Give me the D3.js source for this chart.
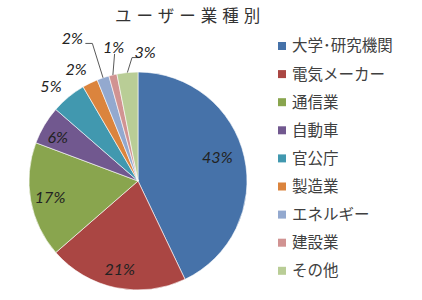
<!DOCTYPE html>
<html>
<head>
<meta charset="utf-8">
<script src="https://cdn.jsdelivr.net/npm/d3@7"></script>
<style>
  body { margin: 0; background: #ffffff; }
  svg { display: block; }
</style>
</head>
<body>
<div id="chart"></div>
<script>
// 業種別ユーザー比率
var categories = ["大学･研究機関", "電気メーカー", "通信業", "自動車", "官公庁", "製造業", "エネルギー", "建設業", "その他"];
var values = [42.9, 20.7, 17.1, 5.7, 5.2, 2.3, 1.8, 1.2, 3.1];
var labels = ["43%", "21%", "17%", "6%", "5%", "2%", "2%", "1%", "3%"];
var colors = ["#4672A9", "#AA4643", "#89A54E", "#71588F", "#4198AF", "#DB843D", "#93A9CF", "#D19392", "#B9CD96"];

var w = 422, h = 300;
var cx = 138, cy = 181, r = 109;

var svg = d3.select("#chart").append("svg").attr("width", w).attr("height", h);

svg.append("text").attr("x", 115).attr("y", 22)
    .attr("font-family", "'Noto Sans CJK JP', sans-serif").attr("font-size", 16.5)
    .attr("letter-spacing", 5).attr("fill", "#333").text("ユーザー業種別");

var pie = d3.pie().sort(null).value(function (d) { return d; });
var arcs = pie(values);
var arc = d3.arc().innerRadius(0).outerRadius(r);

var g = svg.append("g").attr("transform", "translate(" + cx + "," + cy + ")");
g.selectAll("path").data(arcs).enter().append("path")
    .attr("d", arc)
    .attr("fill", function (d, i) { return colors[i]; })
    .attr("stroke", "#fff").attr("stroke-width", 0.6);

// ラベル位置（半径の倍率・角度のずらし）
var labelRadius = [0.76, 0.83, 0.82, 0.84, 1.18, 1.17, 1.44, 1.25, 1.18];
var labelShift = [-4, 0, 0, -2, -3, -3, -6, 3, 8.7];
var lblPos = function (d, i) {
    var a = (d.startAngle + d.endAngle) / 2 + labelShift[i] * Math.PI / 180;
    var rr = r * labelRadius[i];
    return [Math.sin(a) * rr, -Math.cos(a) * rr];
};
var edgePos = function (d) {
    var a = (d.startAngle + d.endAngle) / 2;
    return [Math.sin(a) * r, -Math.cos(a) * r];
};

// 引き出し線
var line = d3.line();
var p;
p = lblPos(arcs[6], 6);
g.append("path").attr("d", line([[p[0] + 13, p[1] + 5], [p[0] + 20, p[1] + 5], edgePos(arcs[6])]));
p = lblPos(arcs[7], 7);
g.append("path").attr("d", line([[p[0] + 1, p[1] + 7], edgePos(arcs[7])]));
p = lblPos(arcs[8], 8);
g.append("path").attr("d", line([[p[0] - 6, p[1] + 5], [p[0] - 13, p[1] + 5], edgePos(arcs[8])]));
g.selectAll("path:not([fill])").attr("fill", "none").attr("stroke", "#595959").attr("stroke-width", 1);

g.selectAll("text.pct").data(arcs).enter().append("text").attr("class", "pct")
    .attr("x", function (d, i) { return lblPos(d, i)[0]; })
    .attr("y", function (d, i) { return lblPos(d, i)[1]; })
    .attr("dy", "0.35em").attr("text-anchor", "middle")
    .attr("font-family", "Lato, 'Liberation Sans', sans-serif")
    .attr("font-style", "italic").attr("font-size", 16).attr("fill", "#222")
    .text(function (d, i) { return labels[i]; });

// 凡例
var legend = svg.append("g").attr("transform", "translate(278,46)");
var row = legend.selectAll("g").data(categories).enter().append("g")
    .attr("transform", function (d, i) { return "translate(0," + (i * 28.1) + ")"; });
row.append("rect").attr("x", 0).attr("y", -4).attr("width", 8).attr("height", 8)
    .attr("fill", function (d, i) { return colors[i]; });
row.append("text").attr("x", 14).attr("y", 0).attr("dy", "0.35em")
    .attr("font-family", "'Noto Sans CJK JP', sans-serif").attr("font-size", 15.5)
    .attr("fill", "#404040").text(function (d) { return d; });
</script>
</body>
</html>
